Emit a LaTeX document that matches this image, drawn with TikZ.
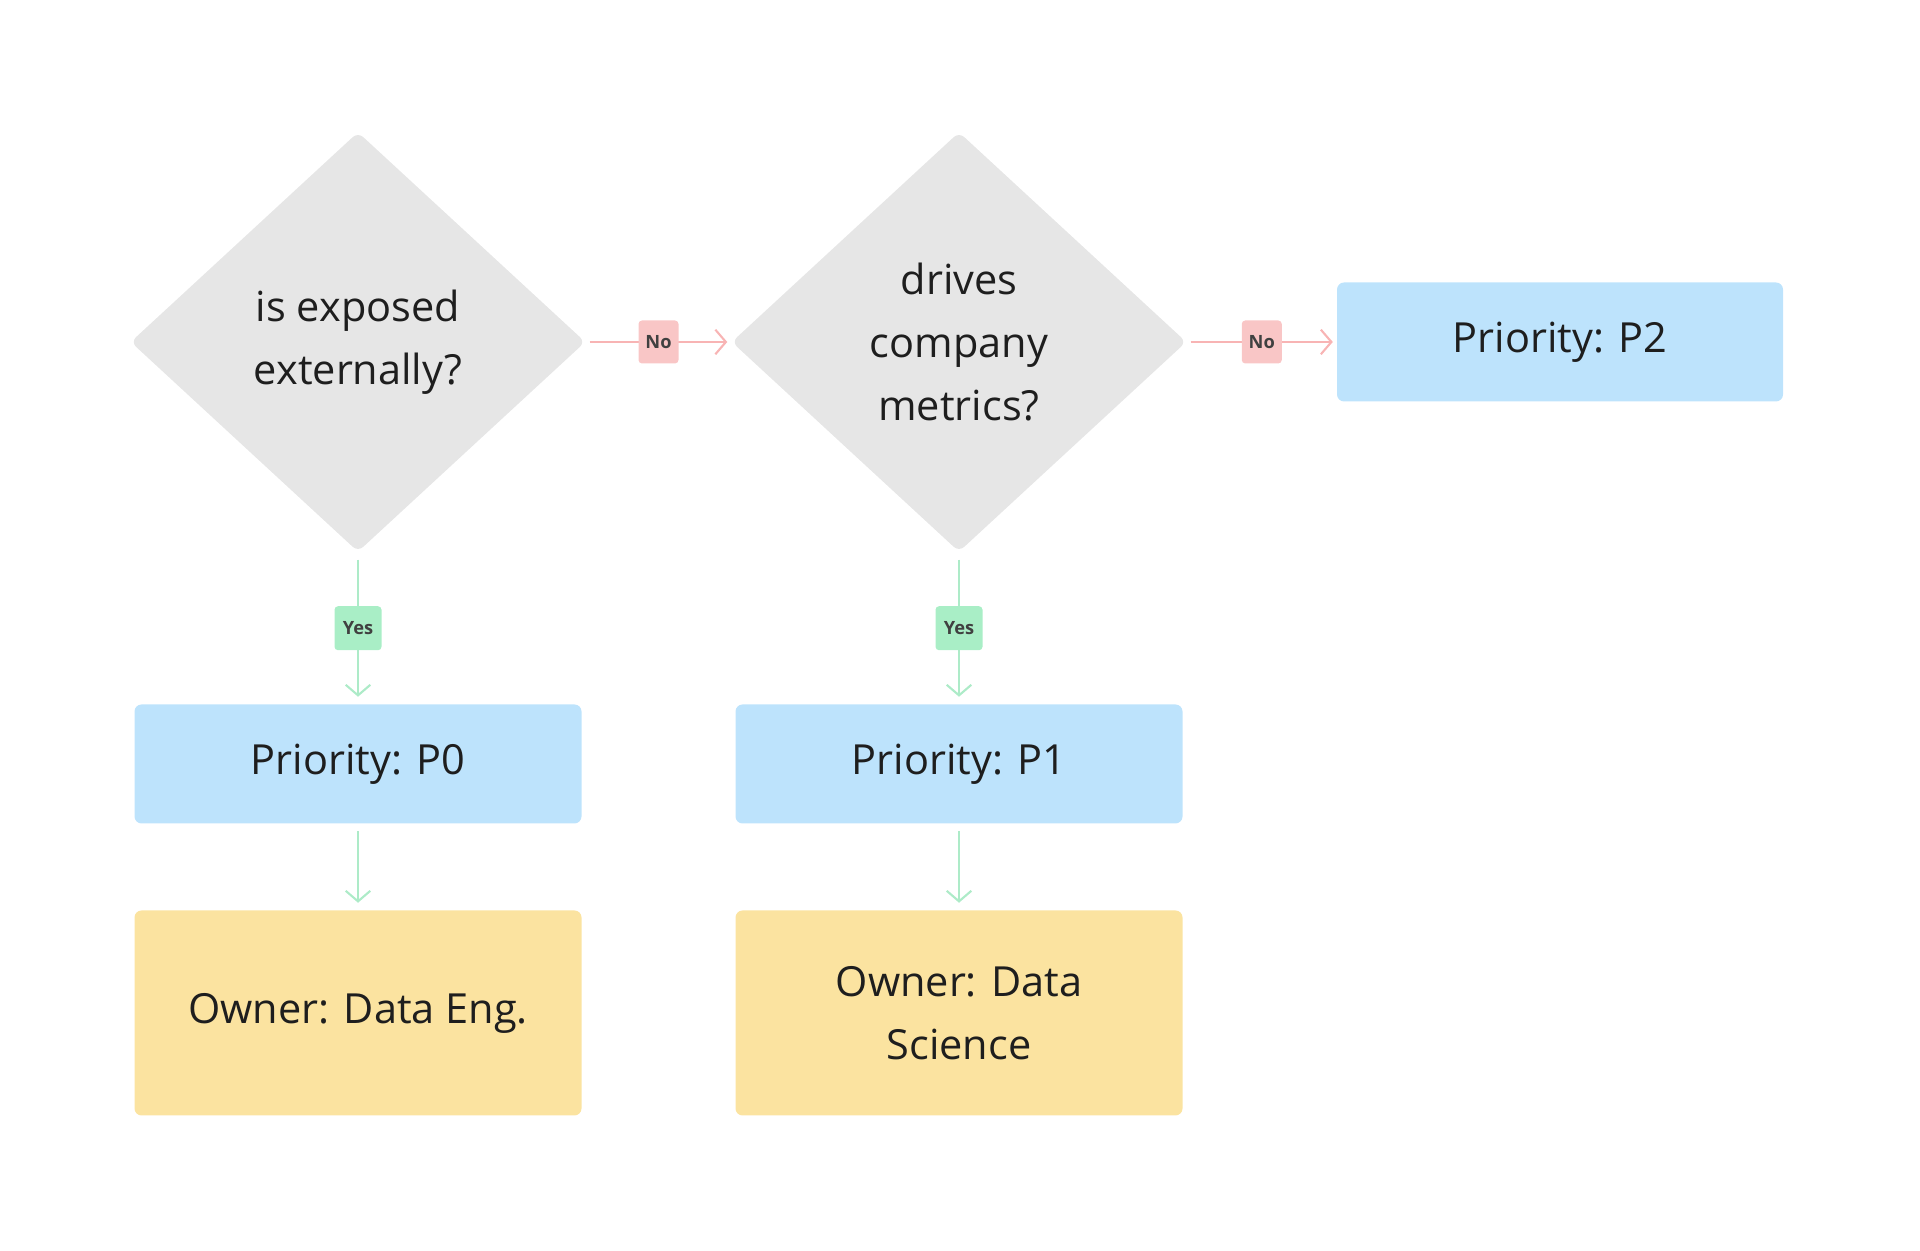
\documentclass[tikz,border=0pt]{standalone}
\usepackage{fontspec}
\setmainfont{Open Sans}
\usepackage{tikz}
\usetikzlibrary{shapes.geometric, arrows.meta, positioning}
\definecolor{decgray}{HTML}{E6E6E6}
\definecolor{prioblue}{HTML}{BDE3FC}
\definecolor{ownyellow}{HTML}{FBE3A0}
\definecolor{nored}{HTML}{F8B4B4}
\definecolor{noboxred}{HTML}{F9C6C6}
\definecolor{yesgreen}{HTML}{ADEBC8}
\definecolor{yesboxgreen}{HTML}{A9EEC6}
\definecolor{inktext}{HTML}{1E1E1E}

\begin{document}
\begin{tikzpicture}[
    decision/.style={diamond, fill=decgray, minimum width=4.55cm, minimum height=4.2cm, inner sep=0pt, align=center, rounded corners=2pt, font=\fontsize{11.8}{18}\selectfont, text=inktext},
    block/.style={rectangle, fill=prioblue, minimum width=4.47cm, minimum height=1.19cm, align=center, rounded corners=2pt, font=\fontsize{11.8}{18}\selectfont, text=inktext},
    owner/.style={block, fill=ownyellow, minimum height=2.05cm},
    nolabel/.style={rectangle, fill=noboxred, minimum width=0.40cm, minimum height=0.43cm, inner sep=0pt, rounded corners=1pt, font=\fontsize{5.2}{6}\selectfont\bfseries, text=inktext!85},
    yeslabel/.style={nolabel, fill=yesboxgreen, minimum width=0.47cm, minimum height=0.44cm},
    noarrow/.style={draw=nored, line width=0.6pt, -{Straight Barb[length=3pt, width=7pt]}, shorten <=1pt, shorten >=1pt},
    yesarrow/.style={draw=yesgreen, line width=0.6pt, -{Straight Barb[length=3pt, width=7pt]}, shorten <=2pt, shorten >=2pt}
]
\useasboundingbox (0,0) rectangle (19.2,12.51);

% Decisions
\node[decision] (exposed) at (3.58,9.09) {is exposed\\externally?};
\node[decision] (metrics) at (9.59,9.09) {drives\\company\\metrics?};

% Priorities
\node[block] (p0) at (3.58,4.87) {Priority: P0};
\node[block] (p1) at (9.59,4.87) {Priority: P1};
\node[block, minimum width=4.46cm] (p2) at (15.60,9.09) {Priority: P2};

% Owners
\node[owner] (dataeng) at (3.58,2.38) {Owner: Data Eng.};
\node[owner] (datasci) at (9.59,2.38) {Owner: Data\\Science};

% Arrows
\draw[noarrow] (exposed.east) -- node[nolabel] (no1) {No} (metrics.west);
\draw[noarrow] (metrics.east) -- node[nolabel] (no2) {No} (p2.west);
\draw[yesarrow] (exposed.south) -- node[yeslabel] (yes1) {Yes} (p0.north);
\draw[yesarrow] (metrics.south) -- node[yeslabel] (yes2) {Yes} (p1.north);
\draw[yesarrow] (p0.south) -- (dataeng.north);
\draw[yesarrow] (p1.south) -- (datasci.north);

\end{tikzpicture}
\end{document}
